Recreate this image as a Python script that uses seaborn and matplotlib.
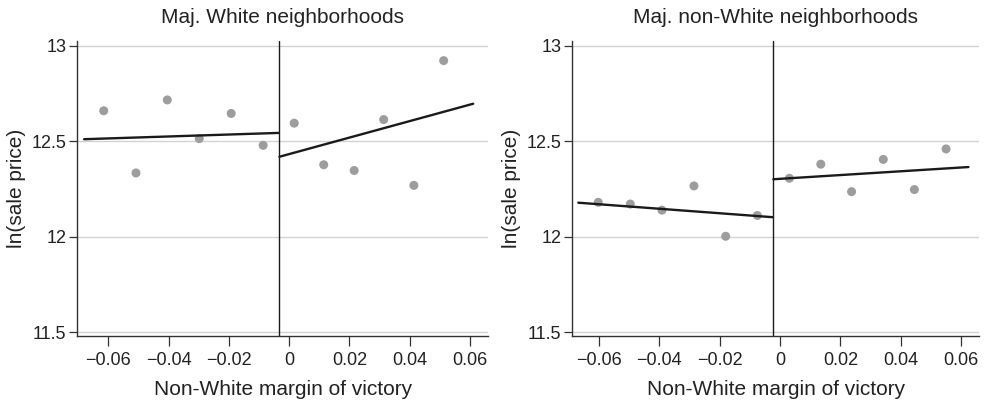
import matplotlib
matplotlib.use("Agg")
import matplotlib.pyplot as plt
import numpy as np
import pandas as pd
import seaborn as sns

# Binned means (x = non-White margin of victory, y = ln(sale price))
bin_x_white = [-0.0615, -0.0508, -0.0404, -0.0298, -0.0192, -0.0086,
               0.0017, 0.0115, 0.0216, 0.0314, 0.0414, 0.0513]
price_white = [12.660, 12.334, 12.717, 12.514, 12.646, 12.479,
               12.595, 12.377, 12.347, 12.614, 12.269, 12.923]

bin_x_nonwhite = [-0.0602, -0.0496, -0.0391, -0.0285, -0.0180, -0.0075,
                  0.0031, 0.0135, 0.0237, 0.0342, 0.0445, 0.0550]
price_nonwhite = [12.180, 12.171, 12.139, 12.266, 12.002, 12.111,
                  12.306, 12.380, 12.236, 12.405, 12.247, 12.460]

# Fitted lines on each side of the cutoff (endpoints)
fit_white_left_x = [-0.0680, -0.0034]
fit_white_left_y = [12.511, 12.544]
fit_white_right_x = [-0.0032, 0.0611]
fit_white_right_y = [12.419, 12.697]

fit_nonwhite_left_x = [-0.0668, -0.0024]
fit_nonwhite_left_y = [12.178, 12.102]
fit_nonwhite_right_x = [-0.0022, 0.0624]
fit_nonwhite_right_y = [12.301, 12.365]

cutoff_white = -0.0033
cutoff_nonwhite = -0.0023

titles = ["Maj. White neighborhoods", "Maj. non-White neighborhoods"]
x_ticks = [-0.06, -0.04, -0.02, 0, 0.02, 0.04, 0.06]
x_tick_labels = ["\u22120.06", "\u22120.04", "\u22120.02", "0", "0.02", "0.04", "0.06"]
y_ticks = [11.5, 12, 12.5, 13]
y_tick_labels = ["11.5", "12", "12.5", "13"]

sns.set_style("white")
plt.rcParams["font.family"] = ["Liberation Sans", "DejaVu Sans"]
plt.rcParams["text.color"] = "#222222"
plt.rcParams["axes.labelcolor"] = "#222222"
plt.rcParams["xtick.color"] = "#222222"
plt.rcParams["ytick.color"] = "#222222"

fig = plt.figure(figsize=(9.86, 4.07), dpi=100)
ax1 = fig.add_axes([0.0786, 0.1744, 0.4160, 0.7249])
ax2 = fig.add_axes([0.5804, 0.1744, 0.4125, 0.7249])

panels = [
    (ax1, bin_x_white, price_white, fit_white_left_x, fit_white_left_y,
     fit_white_right_x, fit_white_right_y, cutoff_white, (-0.0702, 0.0659)),
    (ax2, bin_x_nonwhite, price_nonwhite, fit_nonwhite_left_x, fit_nonwhite_left_y,
     fit_nonwhite_right_x, fit_nonwhite_right_y, cutoff_nonwhite, (-0.0688, 0.0659)),
]

for i, (ax, bx, by, lx, ly, rx, ry, cut, xlim) in enumerate(panels):
    # horizontal grid
    for yt in y_ticks:
        ax.axhline(yt, color="#d2d2d2", linewidth=1.0, zorder=0)

    pts = pd.DataFrame({"x": bx, "y": by})
    sns.scatterplot(data=pts, x="x", y="y", ax=ax, color="#9d9d9d", s=42,
                    edgecolor="none", zorder=3)

    left = pd.DataFrame({"x": lx, "y": ly})
    right = pd.DataFrame({"x": rx, "y": ry})
    sns.lineplot(data=left, x="x", y="y", ax=ax, color="#1a1a1a", linewidth=1.7,
                 estimator=None, sort=False, zorder=4)
    sns.lineplot(data=right, x="x", y="y", ax=ax, color="#1a1a1a", linewidth=1.7,
                 estimator=None, sort=False, zorder=4)

    ax.axvline(cut, color="#1a1a1a", linewidth=1.0, zorder=2)

    ax.set_xlim(*xlim)
    ax.set_ylim(11.479, 13.026)
    ax.set_xticks(x_ticks)
    ax.set_xticklabels(x_tick_labels, fontsize=13)
    ax.set_yticks(y_ticks)
    ax.set_yticklabels(y_tick_labels, fontsize=13)
    ax.tick_params(axis="x", direction="out", length=7.5, width=0.9, pad=4,
                   color="#333333", bottom=True)
    ax.tick_params(axis="y", direction="out", length=6, width=0.9, pad=2,
                   color="#333333", left=True)

    ax.set_xlabel("Non-White margin of victory", fontsize=15, labelpad=8)
    ax.set_ylabel("ln(sale price)", fontsize=15, labelpad=4)
    ax.set_title(titles[i], fontsize=15, pad=13)

    sns.despine(ax=ax)
    for side in ["left", "bottom"]:
        ax.spines[side].set_color("#333333")
        ax.spines[side].set_linewidth(1.0)
    ax.grid(False)

fig.savefig("out.png", dpi=100)
